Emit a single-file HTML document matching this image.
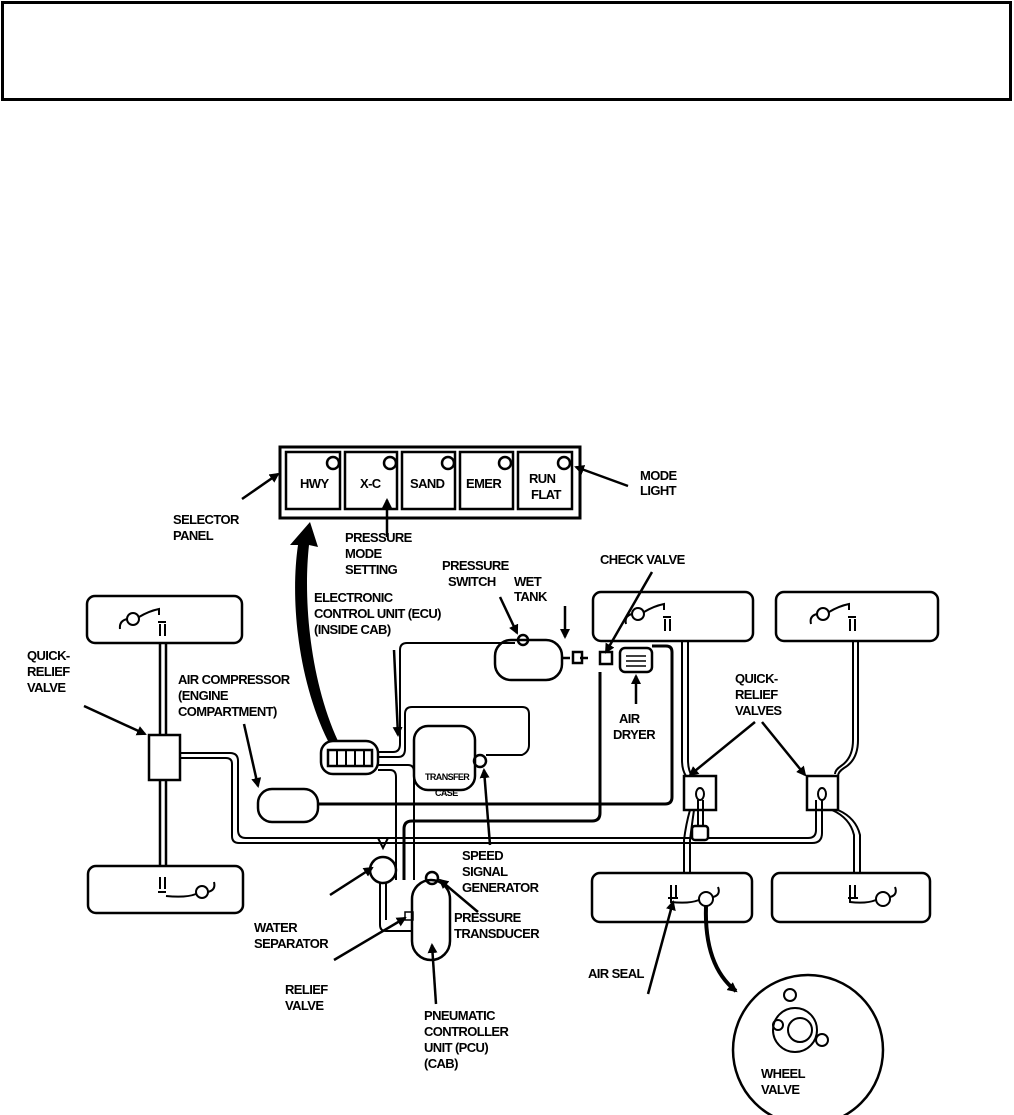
<!DOCTYPE html>
<html><head><meta charset="utf-8"><style>
html,body{margin:0;padding:0;background:#fff;}
svg{display:block}
text{font-family:"Liberation Sans",sans-serif;font-weight:bold;font-size:13px;fill:#000;letter-spacing:-0.6px}
</style></head><body>
<svg width="1014" height="1115" viewBox="0 0 1014 1115" xmlns="http://www.w3.org/2000/svg">
<defs><marker id="a" markerWidth="10" markerHeight="10" refX="8" refY="5" orient="auto" markerUnits="userSpaceOnUse"><path d="M0,0 L10,5 L0,10 Z" fill="#000"/></marker></defs>
<rect x="2.5" y="2.5" width="1008" height="97" fill="none" stroke="#000" stroke-width="3"/>
<g fill="none" stroke="#000" stroke-width="2.5">
<rect x="280" y="447" width="300" height="71" stroke-width="3"/>
<rect x="286" y="452" width="54" height="57"/><rect x="345" y="452" width="52" height="57"/><rect x="402" y="452" width="53" height="57"/><rect x="460" y="452" width="53" height="57"/><rect x="518" y="452" width="54" height="57"/>
<circle cx="333" cy="463" r="6"/><circle cx="390" cy="463" r="6"/><circle cx="448" cy="463" r="6"/><circle cx="505" cy="463" r="6"/><circle cx="564" cy="463" r="6"/>
<rect x="87" y="596" width="155" height="47" rx="8"/>
<rect x="88" y="866" width="155" height="47" rx="8"/>
<rect x="593" y="592" width="160" height="49" rx="8"/>
<rect x="776" y="592" width="162" height="49" rx="8"/>
<rect x="592" y="873" width="160" height="49" rx="8"/>
<rect x="772" y="873" width="158" height="49" rx="8"/>
<g stroke-width="2"><circle cx="133" cy="619" r="6"/><path d="M127,619 q-8,2 -7,10 M139,617 q10,-6 20,-8 v6 M158,622h8 M160,624v12 M165,624v12"/>
<circle cx="202" cy="892" r="6"/><path d="M208,892 q8,-2 6,-10 M196,894 q-10,4 -30,2 M160,877v12 M165,877v12 M158,892h8"/>
<circle cx="638" cy="614" r="6"/><path d="M632,614 q-8,2 -6,10 M644,612 q10,-6 20,-8 v6 M663,617h8 M665,619v12 M670,619v12"/>
<circle cx="823" cy="614" r="6"/><path d="M817,614 q-8,2 -6,10 M829,612 q10,-6 20,-8 v6 M848,617h8 M850,619v12 M855,619v12"/>
<circle cx="706" cy="899" r="7"/><path d="M713,897 q8,-2 5,-10 M699,900 q-10,4 -28,2 v-5 M671,885v12 M676,885v12 M668,898h10"/>
<circle cx="883" cy="899" r="7"/><path d="M890,897 q8,-2 5,-10 M876,900 q-10,4 -26,2 v-5 M850,885v12 M855,885v12 M848,898h10"/></g>
<path d="M160,643V735 M166,643V735 M160,780V866 M166,780V866"/>
<rect x="149" y="735" width="31" height="45" fill="#fff"/>
<path d="M180,753 H230 q8,0 8,8 V830 q0,8 8,8 H700 M180,758 H226 q6,0 6,6 V836 q0,7 7,7 H690" stroke-width="2"/>
<rect x="258" y="789" width="60" height="33" rx="14"/>
<path d="M318,804 H665 q7,0 7,-7 V652 q0,-6 -6,-6 H652" stroke-width="3"/>
<rect x="321" y="741" width="57" height="33" rx="12"/>
<rect x="328" y="750" width="44" height="16"/>
<path d="M337,750v16 M346,750v16 M355,750v16 M364,750v16" stroke-width="2"/>
<rect x="414" y="726" width="61" height="64" rx="14"/>
<circle cx="480" cy="761" r="6"/>
<path d="M378,752 h15 q7,0 7,-8 V650 q0,-7 7,-7 H515" stroke-width="2"/>
<path d="M378,757 h20 q7,0 7,-8 V714 q0,-7 7,-7 H522 q7,0 7,7 V745 q0,7 -7,10 H486" stroke-width="2"/>
<path d="M378,765 h30 q6,0 6,7 V880 M378,770 h12 q6,0 6,7 V880" stroke-width="2"/>
<rect x="495" y="640" width="67" height="40" rx="16"/>
<circle cx="523" cy="640" r="5"/>
<path d="M562,658 h8 M580,658 h8" />
<rect x="573" y="652" width="9" height="11"/>
<rect x="600" y="652" width="12" height="12"/>
<rect x="620" y="648" width="32" height="24" rx="5"/>
<path d="M626,656h20 M626,661h20 M626,666h20" stroke-width="1.5"/>
<path d="M600,672 V813 q0,8 -8,8 H412 q-8,0 -8,8 V880" stroke-width="3"/>
<path d="M682,641 V760 q0,10 4,16 M688,641 V760 q0,10 4,16 M858,641 V740 q0,20 -14,28 q-6,4 -6,8 M853,641 V740 q0,18 -12,26 q-6,4 -6,8" stroke-width="2"/>
<rect x="684" y="776" width="32" height="34" fill="#fff"/>
<rect x="807" y="776" width="31" height="34" fill="#fff"/>
<ellipse cx="700" cy="794" rx="4" ry="6" stroke-width="2"/><ellipse cx="822" cy="794" rx="4" ry="6" stroke-width="2"/>
<path d="M698,800 V830 M703,800 V830" stroke-width="2"/>
<path d="M690,838 H808 q8,0 8,-8 V800 M690,843 H812 q10,0 10,-10 V800" stroke-width="2"/>
<rect x="692" y="826" width="16" height="14" rx="3" fill="#fff"/>
<path d="M690,810 q-4,14 -6,30 V873 M694,810 q-2,14 -4,30 V873 M832,810 q18,8 22,25 V873 M838,810 q18,8 22,25 V873" stroke-width="2"/>
<circle cx="383" cy="870" r="13"/>
<path d="M378,838 l5,10 5,-10 Z M380,883 V925 q0,6 6,6 H412 M386,883 V920" stroke-width="2"/>
<rect x="412" y="880" width="38" height="80" rx="19"/>
<circle cx="432" cy="878" r="6"/>
<rect x="405" y="912" width="8" height="8" stroke-width="1.5"/>
<circle cx="808" cy="1050" r="75"/>
<circle cx="795" cy="1030" r="22" stroke-width="2"/><circle cx="800" cy="1030" r="12" stroke-width="2"/><circle cx="778" cy="1025" r="5" stroke-width="2"/><circle cx="822" cy="1040" r="6" stroke-width="2"/><circle cx="790" cy="995" r="6" stroke-width="2"/>
<g stroke-width="2.5" marker-end="url(#a)">
<path d="M242,499 L278,474"/>
<path d="M628,486 L576,467"/>
<path d="M387,537 V500"/>
<path d="M394,650 L398,735"/>
<path d="M500,597 L517,633"/>
<path d="M565,606 V637"/>
<path d="M652,572 L606,652"/>
<path d="M636,704 V676"/>
<path d="M84,706 L145,734"/>
<path d="M244,724 L258,786"/>
<path d="M490,845 L484,770"/>
<path d="M755,722 L690,775"/>
<path d="M762,722 L805,775"/>
<path d="M330,895 L372,868"/>
<path d="M334,960 L405,918"/>
<path d="M478,912 L440,880"/>
<path d="M436,1004 L432,945"/>
<path d="M648,994 L673,902"/>
</g>
<path d="M706,906 q-2,60 30,85" stroke-width="4" marker-end="url(#a)"/>
</g>
<path d="M328,741 C298,680 290,600 298,545 L290,545 L310,522 L318,547 L309,545 C303,600 310,680 338,741 Z" fill="#000"/>
<text x="300" y="488">HWY</text><text x="360" y="488">X-C</text><text x="410" y="488">SAND</text><text x="466" y="488">EMER</text><text x="529" y="483">RUN</text><text x="531" y="499">FLAT</text>
<text x="640" y="480">MODE</text><text x="640" y="495">LIGHT</text>
<text x="173" y="524">SELECTOR</text><text x="173" y="540">PANEL</text>
<text x="345" y="542">PRESSURE</text><text x="345" y="558">MODE</text><text x="345" y="574">SETTING</text>
<text x="314" y="602">ELECTRONIC</text><text x="314" y="618">CONTROL UNIT (ECU)</text><text x="314" y="634">(INSIDE CAB)</text>
<text x="442" y="570">PRESSURE</text><text x="448" y="586">SWITCH</text>
<text x="514" y="586">WET</text><text x="514" y="601">TANK</text>
<text x="600" y="564">CHECK VALVE</text>
<text x="27" y="660">QUICK-</text><text x="27" y="676">RELIEF</text><text x="27" y="692">VALVE</text>
<text x="178" y="684">AIR COMPRESSOR</text><text x="178" y="700">(ENGINE</text><text x="178" y="716">COMPARTMENT)</text>
<text x="619" y="723">AIR</text><text x="613" y="739">DRYER</text>
<text x="735" y="683">QUICK-</text><text x="735" y="699">RELIEF</text><text x="735" y="715">VALVES</text>
<text x="425" y="780" style="font-size:9px">TRANSFER</text><text x="435" y="796" style="font-size:9px">CASE</text>
<text x="462" y="860">SPEED</text><text x="462" y="876">SIGNAL</text><text x="462" y="892">GENERATOR</text>
<text x="254" y="932">WATER</text><text x="254" y="948">SEPARATOR</text>
<text x="454" y="922">PRESSURE</text><text x="454" y="938">TRANSDUCER</text>
<text x="588" y="978">AIR SEAL</text>
<text x="285" y="994">RELIEF</text><text x="285" y="1010">VALVE</text>
<text x="424" y="1020">PNEUMATIC</text><text x="424" y="1036">CONTROLLER</text><text x="424" y="1052">UNIT (PCU)</text><text x="424" y="1068">(CAB)</text>
<text x="761" y="1078">WHEEL</text><text x="761" y="1094">VALVE</text>
</svg>
</body></html>
